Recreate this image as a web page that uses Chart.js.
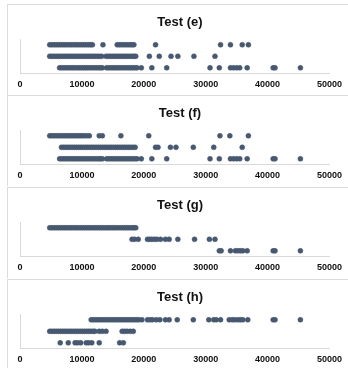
<!DOCTYPE html>
<html>
<head>
<meta charset="utf-8">
<script src="https://cdn.jsdelivr.net/npm/chart.js@4.4.1/dist/chart.umd.min.js"></script>
<style>
    html, body { margin: 0; padding: 0; background: #fff; }
    body { position: relative; width: 348px; height: 368px; overflow: hidden; }
    .panel { position: absolute; left: 7px; width: 341px; height: 91px; border-top: 1px solid #dcdcdc; border-left: 1px solid #dcdcdc; box-sizing: border-box; }
    canvas { position: absolute; left: 0; }
</style>
</head>
<body>
<script>
// titles + tick labels
const titles = ['Test (e)', 'Test (f)', 'Test (g)', 'Test (h)'];
const xTickLabels = ['0', '10000', '20000', '30000', '40000', '50000'];
// y value of each strip (top, middle, bottom)
const rowLevels = [2.45, 1.45, 0.45];

// Test (e)
const eTop = [4800, 5150, 5500, 5850, 6200, 6550, 6900, 7250, 7600, 7950, 8300, 8650, 9000, 9350, 9700, 10050, 10400, 10750, 11100, 11400, 11700,
    13400, 15700, 16050, 16400, 16750, 17100, 17450, 17800, 18100, 18400, 21900, 32400, 34000, 35900, 36900];
const eMid = [4800, 5150, 5500, 5850, 6200, 6550, 6900, 7250, 7600, 7950, 8300, 8650, 9000, 9350, 9700, 10050, 10400, 10750, 11100, 11450, 11800, 12150, 12500, 12850, 13200,
    13900, 14250, 14600, 14950, 15300, 15650, 16000, 16350, 16700, 17050, 17400, 17750, 18100, 18400, 18700,
    20900, 22500, 24400, 25500, 28100, 31500];
const eBot = [6400, 6750, 7100, 7450, 7800, 8150, 8500, 8850, 9200, 9550, 9900, 10250, 10600, 10950, 11300, 11650, 12000, 12350, 12700, 13000, 13300,
    14000, 14350, 14700, 15050, 15400, 15750, 16100, 16450, 16800, 17150, 17500, 17850, 18200, 18550, 18900, 19600,
    21300, 23700, 30700, 32200, 34000, 34500, 35000, 35500, 36700, 40900, 41200, 45300];

// Test (f)
const fTop = [4800, 5150, 5500, 5850, 6200, 6550, 6900, 7250, 7600, 7950, 8300, 8650, 9000, 9350, 9700, 10050, 10400,
    10800, 11200, 12800, 13300, 16300, 20800, 32300, 33900, 36900];
const fMid = [6700, 7050, 7400, 7750, 8100, 8450, 8800, 9150, 9500, 9850, 10200, 10550, 10900, 11250, 11600, 11950, 12300, 12650, 13000, 13350,
    13700, 14050, 14400, 14750, 15100, 15450, 15800, 16150, 16500, 16850, 17200, 17550, 17900, 18250, 18600,
    21900, 22300, 24300, 25200, 28000, 31300, 35900];
const fBot = [6400, 6750, 7100, 7450, 7800, 8150, 8500, 8850, 9200, 9550, 9900, 10250, 10600, 10950, 11300, 11650, 12000, 12350, 12700, 13000, 13300,
    14000, 14350, 14700, 15050, 15400, 15750, 16100, 16450, 16800, 17150, 17500, 17850, 18200, 18550, 18900, 19600,
    21300, 23700, 30700, 32200, 34000, 34500, 35000, 35500, 36700, 40900, 41200, 45300];

// Test (g)
const gTop = [4800, 5150, 5500, 5850, 6200, 6550, 6900, 7250, 7600, 7950, 8300, 8650, 9000, 9350, 9700, 10050, 10400, 10750, 11100, 11450, 11800,
    12150, 12500, 12850, 13200, 13550, 13900, 14250, 14600, 14950, 15300, 15650, 16000, 16350, 16700, 17050, 17400, 17750, 18100, 18400, 18700];
const gMid = [18100, 18500, 19100, 20600, 20950, 21300, 21700, 22100, 22700, 23500, 24100, 25500, 28200, 30600, 31500];
const gBot = [32200, 32500, 34000, 34800, 35200, 35600, 36000, 36700, 40900, 41200, 45300];

// Test (h)
const hTop = [11500, 11850, 12200, 12550, 12900, 13250, 13600, 13950, 14300, 14650, 15000, 15350, 15700, 16050, 16400, 16750, 17100, 17450, 17800,
    18150, 18500, 18850, 19200, 19700, 20600, 21000, 21400, 22000, 22600, 23500, 24100, 25400, 28000,
    30500, 31300, 31700, 32400, 33800, 34300, 34700, 35200, 35600, 36000, 36800, 40900, 41200, 45300];
const hMid = [4800, 5150, 5500, 5850, 6200, 6550, 6900, 7250, 7600, 7950, 8300, 8650, 9000, 9350, 9700, 10050, 10400, 10750, 11100, 11450, 11800, 12100,
    12800, 13300, 13900, 16500, 16900, 17300, 17800, 18300];
const hBot = [6500, 7800, 8900, 9300, 9800, 10700, 11100, 11600, 12800, 16100, 16700];

const panelRows = [
    [eTop, eMid, eBot],
    [fTop, fMid, fBot],
    [gTop, gMid, gBot],
    [hTop, hMid, hBot]
];
const panelTops = [4, 95, 187, 279];

const dotColor = '#475870';
const axisColor = '#d9d9d9';

panelRows.forEach(function (rows, i) {
    let panel = document.createElement('div');
    panel.className = 'panel';
    panel.style.top = panelTops[i] + 'px';
    document.body.appendChild(panel);

    let canvas = document.createElement('canvas');
    canvas.width = 348;
    canvas.height = 91;
    canvas.style.top = panelTops[i] + 'px';
    document.body.appendChild(canvas);

    // one dataset per strip
    let datasets = rows.map(function (vals, r) {
        return {
            data: vals.map(v => ({ x: v, y: rowLevels[r] })),
            backgroundColor: dotColor,
            borderColor: dotColor,
            borderWidth: 0.5,
            pointRadius: 2.5
        };
    });

    new Chart(canvas.getContext('2d'), {
        type: 'scatter',
        data: { datasets: datasets },
        options: {
            responsive: false,
            animation: false,
            devicePixelRatio: 1,
            layout: { padding: { left: 20, right: 8, top: 0, bottom: 0 } },
            scales: {
                x: {
                    type: 'linear',
                    min: 0,
                    max: 50000,
                    afterFit: function (scale) { scale.height = 22; },
                    grid: { display: false, drawTicks: false },
                    border: { display: true, color: axisColor, width: 1 },
                    ticks: {
                        stepSize: 10000,
                        autoSkip: false,
                        maxRotation: 0,
                        padding: 6,
                        color: '#111',
                        font: { family: 'Liberation Sans', size: 9, weight: 'bold' },
                        callback: (value, index) => xTickLabels[index]
                    }
                },
                y: {
                    min: 0,
                    max: 2.9,
                    afterFit: function (scale) { scale.width = 0; },
                    grid: { display: false, drawTicks: false },
                    border: { display: true, color: axisColor, width: 1 },
                    ticks: { display: false }
                },
                // empty right box so the title centres a bit right, like the original
                y2: {
                    position: 'right',
                    display: true,
                    afterFit: function (scale) { scale.width = 8; },
                    grid: { display: false, drawTicks: false },
                    border: { display: false },
                    ticks: { display: false }
                }
            },
            plugins: {
                legend: { display: false },
                tooltip: { enabled: false },
                title: {
                    display: true,
                    text: titles[i],
                    color: '#111',
                    font: { family: 'Liberation Sans', size: 13, weight: 'bold' },
                    padding: { top: 11, bottom: 9 }
                }
            }
        }
    });
});
</script>
</body>
</html>
